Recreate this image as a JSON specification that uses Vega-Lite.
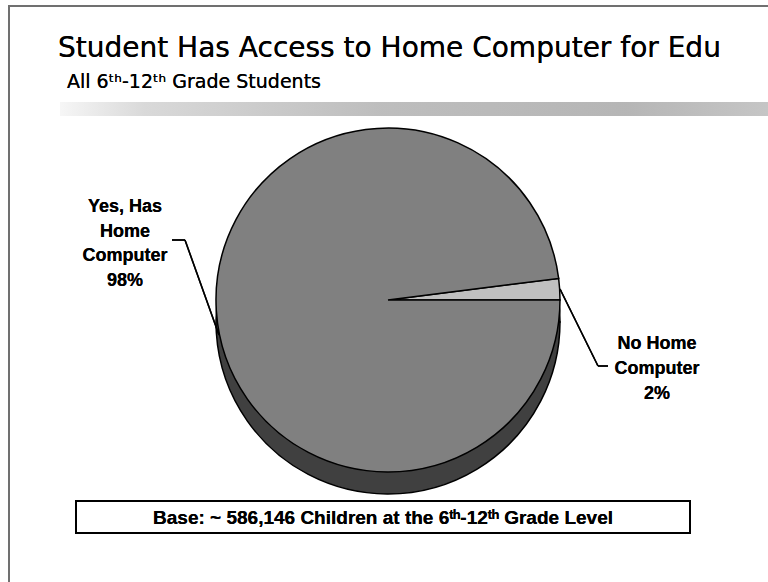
{
  "$schema": "https://vega.github.io/schema/vega-lite/v6.json",
  "width": 768,
  "height": 582,
  "autosize": "none",
  "padding": 0,
  "background": "#ffffff",
  "config": {"view": {"stroke": null}},
  "data": {"values": [
    {"answer": "No Home Computer", "pct": 2},
    {"answer": "Yes, Has Home Computer", "pct": 98}
  ]},
  "layer": [
    {"mark": {"type": "rule", "stroke": "#707070", "strokeWidth": 2},
     "encoding": {"x": {"value": 9}, "y": {"value": 6}, "x2": {"value": 9}, "y2": {"value": 582}}},
    {"mark": {"type": "rule", "stroke": "#707070", "strokeWidth": 2},
     "encoding": {"x": {"value": 8}, "y": {"value": 6}, "x2": {"value": 768}, "y2": {"value": 6}}},
    {"mark": {"type": "text", "x": 58, "y": 57, "text": "Student Has Access to Home Computer for Edu", "font": "DejaVu Sans", "fontSize": 28, "align": "left", "baseline": "alphabetic", "color": "#000000"}, "encoding": {}},
    {"mark": {"type": "text", "x": 67, "y": 88, "text": "All 6ᵗʰ-12ᵗʰ Grade Students", "font": "DejaVu Sans", "fontSize": 19, "align": "left", "baseline": "alphabetic", "color": "#000000"}, "encoding": {}},
    {"mark": {"type": "rect", "x": 60, "x2": 768, "y": 102, "y2": 116, "opacity": 0.85,
      "fill": {"gradient": "linear", "x1": 0, "x2": 1, "y1": 0, "y2": 0, "stops": [
        {"offset": 0, "color": "#f6f6f6"}, {"offset": 0.12, "color": "#d8d8d8"}, {"offset": 0.45, "color": "#bcbcbc"}, {"offset": 0.8, "color": "#b4b4b4"}, {"offset": 1, "color": "#c4c4c4"}]}}, "encoding": {}},
    {
      "mark": {"type": "arc", "x": 388, "y": 300, "yOffset": 22, "outerRadius": 172, "fill": "#404040", "stroke": "#000000", "strokeWidth": 1.5},
      "encoding": {
        "theta": {"field": "pct", "type": "quantitative", "stack": true, "scale": {"range": [1.4451, 7.7283]}},
        "order": {"field": "pct", "type": "quantitative", "sort": "ascending"}
      }
    },
    {
      "mark": {"type": "arc", "x": 388, "y": 300, "outerRadius": 172, "stroke": "#000000", "strokeWidth": 1.5},
      "encoding": {
        "theta": {"field": "pct", "type": "quantitative", "stack": true, "scale": {"range": [1.4451, 7.7283]}},
        "order": {"field": "pct", "type": "quantitative", "sort": "ascending"},
        "color": {"field": "answer", "type": "nominal", "legend": null,
          "scale": {"domain": ["No Home Computer", "Yes, Has Home Computer"], "range": ["#c0c0c0", "#808080"]}}
      }
    },
    {"mark": {"type": "rule", "stroke": "#000000", "strokeWidth": 1.5},
     "encoding": {"x": {"value": 172}, "y": {"value": 240}, "x2": {"value": 185}, "y2": {"value": 240}}},
    {"mark": {"type": "rule", "stroke": "#000000", "strokeWidth": 1.5},
     "encoding": {"x": {"value": 185}, "y": {"value": 240}, "x2": {"value": 219}, "y2": {"value": 335}}},
    {"mark": {"type": "rule", "stroke": "#000000", "strokeWidth": 1.5},
     "encoding": {"x": {"value": 560}, "y": {"value": 289}, "x2": {"value": 598}, "y2": {"value": 366}}},
    {"mark": {"type": "rule", "stroke": "#000000", "strokeWidth": 1.5},
     "encoding": {"x": {"value": 598}, "y": {"value": 366}, "x2": {"value": 608}, "y2": {"value": 366}}},
    {"mark": {"type": "text", "x": 125, "y": 212, "text": ["Yes, Has", "Home", "Computer", "98%"], "lineHeight": 24.5, "font": "Liberation Sans", "fontWeight": "bold", "fontSize": 18, "align": "center", "baseline": "alphabetic", "color": "#000000"}, "encoding": {}},
    {"mark": {"type": "text", "x": 657, "y": 349, "text": ["No Home", "Computer", "2%"], "lineHeight": 25, "font": "Liberation Sans", "fontWeight": "bold", "fontSize": 18, "align": "center", "baseline": "alphabetic", "color": "#000000"}, "encoding": {}},
    {"mark": {"type": "rect", "x": 76, "x2": 690, "y": 501, "y2": 533, "fill": "#ffffff", "stroke": "#000000", "strokeWidth": 2}, "encoding": {}},
    {"mark": {"type": "text", "x": 383, "y": 524, "text": "Base: ~ 586,146 Children at the 6ᵗʰ-12ᵗʰ Grade Level", "font": "Liberation Sans", "fontWeight": "bold", "fontSize": 19, "align": "center", "baseline": "alphabetic", "color": "#000000"}, "encoding": {}}
  ]
}
